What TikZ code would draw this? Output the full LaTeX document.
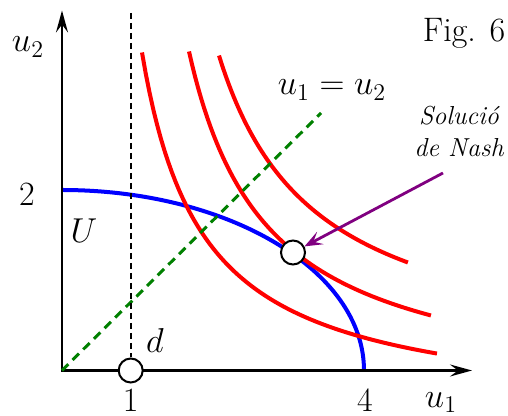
\documentclass[tikz,border=0pt]{standalone}
\usepackage{amsmath}
\usepackage{fontspec}
\usepackage{tikz}
\usetikzlibrary{arrows.meta, positioning}

\begin{document}
\begin{tikzpicture}[x=50pt, y=50pt, font=\fontsize{17}{20}\selectfont,
    punt/.style={circle, draw, line width=1pt, fill=white, minimum size=12pt, inner sep=0pt},
    corba/.style={red, line width=2pt, samples=80},
    eix/.style={line width=1.2pt, {Stealth[length=11pt, width=6pt, inset=4pt]}-{Stealth[length=11pt, width=6pt, inset=4pt]}}]
  \useasboundingbox (-0.62,-0.455) rectangle (4.46,3.705);
  \coordinate (O) at (0,0);
  \coordinate (xend) at (4.10,0);
  \coordinate (yend) at (0,3.60);
  \coordinate (dtop) at (0.687,3.575);
  \coordinate (diag) at (2.59,2.575);
  \coordinate (fletxa) at (3.81,1.975);

  % conjunt U
  \draw[blue, line width=2pt] (0,1.805) arc[start angle=90, end angle=0, x radius=3.02, y radius=1.805];

  % corbes de nivell
  \draw[corba, domain=0.80:3.75] plot (\x, {-0.45 + 2.2034/(\x-0.193)});
  \draw[corba, domain=1.27:3.69] plot (\x, {-0.303 + 2.7316/(\x-0.488)});
  \draw[corba, domain=1.57:3.46] plot (\x, {0.0195 + 3.0298/(\x-0.602)});

  % eixos
  \draw[eix] (yend) -- (O) -- (xend);

  \node[punt] (d) at (0.687,0) {};
  \node[punt] (nash) at (2.31,1.18) {};

  \draw[green!50!black, line width=1.5pt, dash pattern=on 4.5pt off 3pt] (O) -- (diag);
  \draw[line width=0.8pt, dash pattern=on 3pt off 2pt] (dtop) -- (d.north);
  \draw[violet, line width=1.4pt, -{Stealth[length=9pt, width=7pt, inset=4pt]}] (fletxa) -- (nash);

  % etiquetes
  \node (lu2) at (-0.34,3.235) {$u_2$};
  \node[inner sep=0pt] (lu1) at (3.79,-0.32) {$u_1$};
  \node (l2) at (-0.35,1.765) {2};
  \node[inner sep=0pt] (l1) at (0.687,-0.295) {1};
  \node[inner sep=0pt] (l4) at (3.03,-0.30) {4};
  \node (lU) at (0.22,1.395) {$U$};
  \node (ld) at (0.93,0.295) {$d$};
  \node (ldiag) at (2.70,2.805) {$u_1 = u_2$};
  \node[font=\fontsize{13}{16}\selectfont\itshape, align=center] (lnash) at (3.97,2.395) {Solució\\de Nash};
  \node (fig) at (4.02,3.375) {Fig. 6};
\end{tikzpicture}
\end{document}
